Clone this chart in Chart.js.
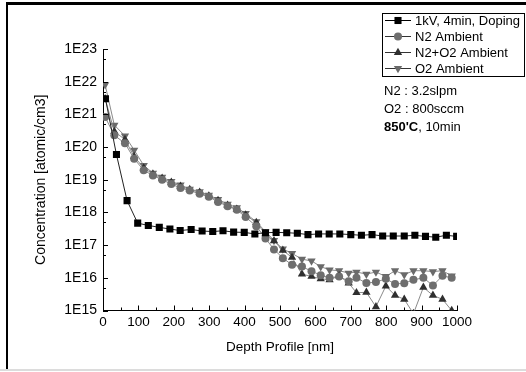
<!DOCTYPE html>
<html><head><meta charset="utf-8">
<script src="https://cdn.jsdelivr.net/npm/chart.js@4/dist/chart.umd.min.js"></script>
<style>html,body{margin:0;padding:0;background:#fff}#wrap{width:526px;height:372px;position:relative}</style>
</head><body><div id="wrap"><canvas id="c" width="526" height="372"></canvas></div>
<script>
// ---- data ----
const seriesLabels = ['1kV, 4min, Doping', 'N2 Ambient', 'N2+O2 Ambient', 'O2 Ambient'];
const xTitle = 'Depth Profile [nm]';
const yTitle = 'Concentration [atomic/cm3]';
const xTickValues = [0, 100, 200, 300, 400, 500, 600, 700, 800, 900, 1000];
const xTickLabels = ['0', '100', '200', '300', '400', '500', '600', '700', '800', '900', '1000'];
const yTickLabels = ['1E15', '1E16', '1E17', '1E18', '1E19', '1E20', '1E21', '1E22', '1E23'];
const yTickValues = [1e15, 1e16, 1e17, 1e18, 1e19, 1e20, 1e21, 1e22, 1e23];
const noteLines = ['N2 : 3.2slpm', 'O2 : 800sccm'];
const noteBold = "850'C";
const noteRest = ', 10min';

const dopingDepth = [7, 38, 68, 98, 128, 159, 189, 218, 249, 280, 310, 339, 369, 399, 429, 459, 489, 519, 549, 579, 609, 639, 669, 700, 730, 760, 790, 820, 851, 881, 911, 940, 970, 999];
const dopingConc = [3.0e21, 5.9e19, 2.3e18, 4.7e17, 4.0e17, 3.5e17, 3.1e17, 2.8e17, 3.0e17, 2.7e17, 2.6e17, 2.75e17, 2.5e17, 2.45e17, 2.2e17, 2.4e17, 2.45e17, 2.4e17, 2.3e17, 2.1e17, 2.2e17, 2.2e17, 2.2e17, 2.1e17, 2.0e17, 2.1e17, 1.9e17, 1.9e17, 1.9e17, 2.0e17, 1.85e17, 1.75e17, 2.0e17, 1.85e17];

const ambientDepth = [6, 32, 62, 88, 115, 141, 167, 193, 219, 245, 273, 299, 325, 352, 378, 403, 433, 459, 483, 508, 534, 562, 589, 615, 640, 667, 694, 716, 744, 771, 799, 825, 851, 877, 905, 932, 959, 985];
const n2Conc = [8.3e20, 2.3e20, 1.3e20, 4.4e19, 1.95e19, 1.35e19, 1.0e19, 7.4e18, 5.6e18, 4.7e18, 3.7e18, 3.0e18, 2.1e18, 1.55e18, 1.2e18, 7.2e17, 3.8e17, 1.6e17, 7.4e16, 4.0e16, 2.5e16, 2.2e16, 1.6e16, 1.2e16, 1.0e16, 1.1e16, 7.9e15, 1.0e16, 6.9e15, 7.4e15, 9.3e15, 6.5e15, 6.8e15, 8.7e15, 1.0e16, 5.8e15, 1.15e16, 1.0e16];
const n2o2Conc = [3.0e21, 3.0e20, 1.7e20, 5.1e19, 2.3e19, 1.5e19, 1.1e19, 8.3e18, 6.3e18, 5.0e18, 4.1e18, 3.2e18, 2.3e18, 1.65e18, 1.25e18, 8.3e17, 4.9e17, 2.2e17, 1.35e17, 6.9e16, 4.2e16, 1.3e16, 1.1e16, 9.3e15, 8.7e15, 1.15e16, 6.9e15, 3.5e15, 3.6e15, 1.3e15, 5.6e15, 2.9e15, 2.2e15, 8e14, 5.1e15, 2.9e15, 2.2e15, 1.0e15];
const o2Conc = [8.1e21, 4.7e20, 2.2e20, 8.1e19, 2.75e19, 1.6e19, 1.2e19, 8.9e18, 6.9e18, 5.2e18, 4.3e18, 3.4e18, 2.5e18, 1.8e18, 1.4e18, 9.3e17, 5.2e17, 2.6e17, 1.4e17, 7.6e16, 5.6e16, 3.7e16, 3.3e16, 2.2e16, 1.75e16, 1.65e16, 1.4e16, 1.5e16, 1.3e16, 1.5e16, 1.1e16, 1.65e16, 1.25e16, 1.65e16, 1.65e16, 1.55e16, 1.65e16, 1.15e16];

// ---- chart ----
const FONT = '"Liberation Sans", Arial, sans-serif';
const pts = (xs, ys) => xs.map((x, i) => ({x: x, y: ys[i]}));

const styles = [
  {line: '#222', fill: '#000', pointStyle: 'rect', radius: 5, rotation: 0},
  {line: '#8a8a8a', fill: '#6e6e6e', pointStyle: 'circle', radius: 4, rotation: 0},
  {line: '#8a8a8a', fill: '#2f2f2f', pointStyle: 'triangle', radius: 4.8, rotation: 0},
  {line: '#8a8a8a', fill: '#6a6a6a', pointStyle: 'triangle', radius: 4.8, rotation: 180}
];
const seriesData = [pts(dopingDepth, dopingConc), pts(ambientDepth, n2Conc), pts(ambientDepth, n2o2Conc), pts(ambientDepth, o2Conc)];

const datasets = seriesLabels.map((lab, i) => ({
  label: lab,
  data: seriesData[i],
  showLine: true,
  borderColor: styles[i].line,
  borderWidth: 1,
  pointStyle: styles[i].pointStyle,
  pointRadius: styles[i].radius,
  pointRotation: styles[i].rotation,
  pointBackgroundColor: styles[i].fill,
  pointBorderColor: styles[i].fill,
  pointBorderWidth: 0,
  pointHoverRadius: styles[i].radius,
  tension: 0
}));

function drawMarker(ctx, st, x, y) {
  ctx.save();
  ctx.fillStyle = st.fill;
  ctx.beginPath();
  const r = st.radius;
  if (st.pointStyle === 'rect') {
    const s = Math.SQRT1_2 * r;
    ctx.rect(x - s, y - s, 2 * s, 2 * s);
  } else if (st.pointStyle === 'circle') {
    ctx.arc(x, y, r, 0, Math.PI * 2);
  } else {
    const rot = st.rotation * Math.PI / 180;
    for (let k = 0; k < 3; k++) {
      const a = rot - Math.PI / 2 + k * 2 * Math.PI / 3;
      const px = x + Math.cos(a) * r, py = y + Math.sin(a) * r;
      if (k === 0) ctx.moveTo(px, py); else ctx.lineTo(px, py);
    }
    ctx.closePath();
  }
  ctx.fill();
  ctx.restore();
}

const framePlugin = {
  id: 'frame',
  beforeDraw(chart) {
    const ctx = chart.ctx;
    ctx.save();
    ctx.fillStyle = '#fff';
    ctx.fillRect(0, 0, 526, 372);
    ctx.fillStyle = '#000';
    ctx.fillRect(6, 2, 520, 3);
    ctx.fillRect(6, 2, 2, 367);
    ctx.fillStyle = '#dcdcdc';
    ctx.fillRect(0, 369, 526, 2);
    ctx.restore();
  }
};

const innerTicks = {
  id: 'innerTicks',
  afterDatasetsDraw(chart) {
    const {ctx, chartArea: a, scales: {x, y}} = chart;
    ctx.save();
    ctx.strokeStyle = '#000';
    ctx.lineWidth = 1;
    ctx.beginPath();
    xTickValues.forEach((v, i) => {
      const px = Math.round(x.getPixelForValue(v)) + 0.5;
      ctx.moveTo(px, a.bottom); ctx.lineTo(px, a.bottom - 5);
      if (i < xTickValues.length - 1) {
        const pm = Math.round(x.getPixelForValue(v + 50)) + 0.5;
        ctx.moveTo(pm, a.bottom); ctx.lineTo(pm, a.bottom - 3);
      }
    });
    yTickValues.forEach((v, i) => {
      const py = Math.round(y.getPixelForValue(v)) + 0.5;
      ctx.moveTo(a.left, py); ctx.lineTo(a.left + 5, py);
      if (i < yTickValues.length - 1) {
        const pm = Math.round(y.getPixelForValue(v * 5)) + 0.5;
        ctx.moveTo(a.left, pm); ctx.lineTo(a.left + 3, pm);
      }
    });
    ctx.stroke();
    ctx.restore();
  }
};

const legendPlugin = {
  id: 'boxLegend',
  afterDraw(chart) {
    const ctx = chart.ctx;
    ctx.save();
    ctx.strokeStyle = '#000';
    ctx.lineWidth = 1;
    ctx.strokeRect(382.5, 13.5, 142, 63);
    const rows = [20, 36, 52, 68];
    ctx.font = '13px ' + FONT;
    ctx.textBaseline = 'middle';
    ctx.textAlign = 'left';
    seriesLabels.forEach((lab, i) => {
      const yy = rows[i];
      ctx.strokeStyle = i === 0 ? '#000' : '#333';
      ctx.beginPath();
      ctx.moveTo(385, yy + 0.5); ctx.lineTo(411, yy + 0.5);
      ctx.stroke();
      drawMarker(ctx, styles[i], 398, yy + 0.5);
      ctx.fillStyle = '#000';
      ctx.fillText(lab, 415, yy + 1);
    });
    // notes
    ctx.fillStyle = '#000';
    ctx.fillText(noteLines[0], 384, 91);
    ctx.fillText(noteLines[1], 384, 109);
    ctx.font = 'bold 13px ' + FONT;
    ctx.fillText(noteBold, 384, 127);
    const w = ctx.measureText(noteBold).width;
    ctx.font = '13px ' + FONT;
    ctx.fillText(noteRest, 384 + w, 127);
    ctx.restore();
  }
};

new Chart(document.getElementById('c'), {
  type: 'scatter',
  data: {datasets: datasets},
  plugins: [framePlugin, innerTicks, legendPlugin],
  options: {
    responsive: false,
    animation: false,
    devicePixelRatio: 1,
    layout: {padding: {left: 8, top: 49, right: 69, bottom: 0}},
    plugins: {legend: {display: false}, tooltip: {enabled: false}},
    scales: {
      x: {
        type: 'linear', min: 0, max: 1000,
        afterBuildTicks: s => { s.ticks = xTickValues.map(v => ({value: v})); },
        ticks: {color: '#000', font: {family: FONT, size: 13.5}, padding: 4, maxRotation: 0, autoSkip: false,
          callback: (v, i) => xTickLabels[i]},
        grid: {display: false, drawTicks: false},
        border: {display: true, color: '#000', width: 1},
        title: {display: true, text: xTitle, color: '#000', font: {family: FONT, size: 13.5}, padding: {top: 0, bottom: 17}},
        afterFit: s => { s.height = 61.5; }
      },
      y: {
        type: 'logarithmic', min: 1e15, max: 1e23,
        afterBuildTicks: s => { s.ticks = yTickValues.map(v => ({value: v})); },
        ticks: {color: '#000', font: {family: FONT, size: 14}, padding: 6, autoSkip: false,
          callback: (v, i) => yTickLabels[i]},
        grid: {display: false, drawTicks: false},
        border: {display: true, color: '#000', width: 1},
        title: {display: true, text: yTitle, color: '#000', font: {family: FONT, size: 14}, padding: {top: 25, bottom: 0}},
        afterFit: s => { s.width = 95; }
      }
    }
  }
});
</script>
</body></html>
